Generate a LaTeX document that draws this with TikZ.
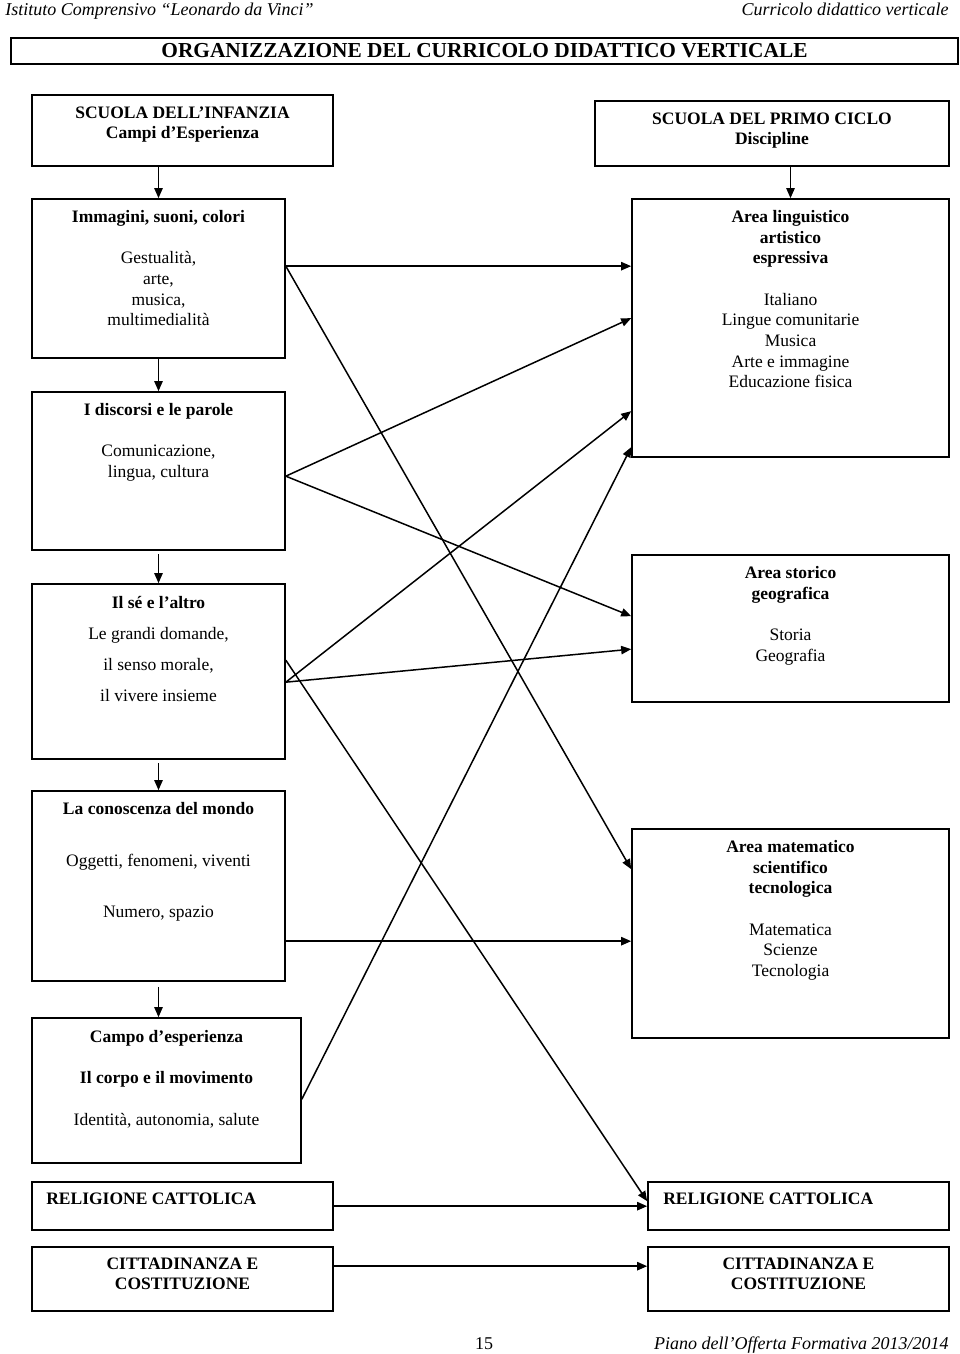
\documentclass[tikz,border=0pt]{standalone}
\usepackage{fontspec}
\setmainfont{Liberation Serif}
\usetikzlibrary{arrows.meta,calc,fit}

\tikzset{
  box/.style={draw, line width=1pt, inner sep=0pt},
  txt/.style={font=\fontsize{10.5}{12.4}\selectfont, align=center, inner sep=0pt, anchor=north},
  head/.style={font=\fontsize{10.8}{13}\selectfont\itshape, inner sep=0pt},
  link/.style={-{Triangle[length=6pt,width=5pt]}, line width=0.9pt},
}

\begin{document}
\begin{tikzpicture}[x=0.6pt, y=-0.6pt]
\useasboundingbox (0,0) rectangle (960,1354);
% intestazione e pie di pagina
\node[head, anchor=base west] (hdl) at (5,16) {Istituto Comprensivo “Leonardo da Vinci”};
\node[head, anchor=base east] (hdr) at (949,16) {Curricolo didattico verticale};
\node[head, anchor=base] (pag) at (484,1349) {\upshape 15};
\node[head, anchor=base east] (pof) at (949,1349) {Piano dell’Offerta Formativa 2013/2014};
\node[box, fit={(11,38) (958,64)}] (ttl) {};
\node[inner sep=0pt, font=\fontsize{12.8}{15}\selectfont\bfseries] (ttl-t) at (ttl.center) {ORGANIZZAZIONE DEL CURRICOLO DIDATTICO VERTICALE};

% colonna sinistra
\node[box, fit={(32,95) (333,166)}] (inf) {};
\node[txt, font=\fontsize{10.5}{12.4}\selectfont\bfseries] (inf-t) at ($(inf.north)+(0,12)$) {SCUOLA DELL’INFANZIA\\Campi d’Esperienza};
\node[box, fit={(32,199) (285,358)}] (imm) {};
\node[txt] (imm-t) at ($(imm.north)+(0,12)$) {\textbf{Immagini, suoni, colori}\\[12.4pt]Gestualità,\\arte,\\musica,\\multimedialità};
\node[box, fit={(32,392) (285,550)}] (dis) {};
\node[txt] (dis-t) at ($(dis.north)+(0,12)$) {\textbf{I discorsi e le parole}\\[12.4pt]Comunicazione,\\lingua, cultura};
\node[box, fit={(32,584) (285,759)}] (se) {};
\node[txt] (se-t) at ($(se.north)+(0,13)$) {\textbf{Il sé e l’altro}\\[6.2pt]Le grandi domande,\\[6.2pt]il senso morale,\\[6.2pt]il vivere insieme};
\node[box, fit={(32,791) (285,981)}] (con) {};
\node[txt] (con-t) at ($(con.north)+(0,12)$) {\textbf{La conoscenza del mondo}\\[18.6pt]Oggetti, fenomeni, viventi\\[18.6pt]Numero, spazio};
\node[box, fit={(32,1018) (301,1163)}] (cam) {};
\node[txt] (cam-t) at ($(cam.north)+(0,13)$) {\textbf{Campo d’esperienza}\\[12.4pt]\textbf{Il corpo e il movimento}\\[12.4pt]Identità, autonomia, salute};
\node[box, fit={(32,1182) (333,1230)}] (relL) {};
\node[txt, anchor=west, font=\fontsize{10.5}{12.4}\selectfont\bfseries] (relL-t) at (46,1199) {RELIGIONE CATTOLICA};
\node[box, fit={(32,1247) (333,1311)}] (citL) {};
\node[txt, font=\fontsize{10.5}{12.4}\selectfont\bfseries] (citL-t) at ($(citL.north)+(0,11)$) {CITTADINANZA E\\COSTITUZIONE};

% colonna destra
\node[box, fit={(595,101) (949,166)}] (pc) {};
\node[txt, font=\fontsize{10.5}{12.4}\selectfont\bfseries] (pc-t) at ($(pc.north)+(0,12)$) {SCUOLA DEL PRIMO CICLO\\Discipline};
\node[box, fit={(632,199) (949,457)}] (lin) {};
\node[txt] (lin-t) at ($(lin.north)+(0,12)$) {\textbf{Area linguistico}\\\textbf{artistico}\\\textbf{espressiva}\\[12.4pt]Italiano\\Lingue comunitarie\\Musica\\Arte e immagine\\Educazione fisica};
\node[box, fit={(632,555) (949,702)}] (sto) {};
\node[txt] (sto-t) at ($(sto.north)+(0,12)$) {\textbf{Area storico}\\\textbf{geografica}\\[12.4pt]Storia\\Geografia};
\node[box, fit={(632,829) (949,1038)}] (mat) {};
\node[txt] (mat-t) at ($(mat.north)+(0,12)$) {\textbf{Area matematico}\\\textbf{scientifico}\\\textbf{tecnologica}\\[12.4pt]Matematica\\Scienze\\Tecnologia};
\node[box, fit={(648,1182) (949,1230)}] (relR) {};
\node[txt, anchor=west, font=\fontsize{10.5}{12.4}\selectfont\bfseries] (relR-t) at (663,1199) {RELIGIONE CATTOLICA};
\node[box, fit={(648,1247) (949,1311)}] (citR) {};
\node[txt, font=\fontsize{10.5}{12.4}\selectfont\bfseries] (citR-t) at ($(citR.north)+(0,11)$) {CITTADINANZA E\\COSTITUZIONE};

% frecce verticali
\draw[link] (inf.south -| imm.north) -- (imm.north);
\draw[link] (imm.south) -- (dis.north);
\draw[link, shorten <=2pt] (dis.south) -- (se.north);
\draw[link, shorten <=2pt] (se.south) -- (con.north);
\draw[link, shorten <=3pt] (con.south) -- (con.south |- cam.north);
\draw[link] (pc.south -| lin.north) -- (lin.north);

% collegamenti campi - discipline
\draw[link] ($(imm.north east)+(0,68)$) -- ($(lin.north west)+(0,68)$);
\draw[link] ($(imm.north east)+(0,68)$) -- ($(mat.north west)+(0,41)$);
\draw[link] ($(dis.north east)+(0,85)$) -- ($(lin.north west)+(0,120)$);
\draw[link] ($(dis.north east)+(0,85)$) -- ($(sto.north west)+(0,62)$);
\draw[link] ($(se.north east)+(0,99)$) -- ($(lin.north west)+(0,213)$);
\draw[link] ($(se.north east)+(0,99)$) -- ($(sto.north west)+(0,95)$);
\draw[link] ($(se.north east)+(0,77)$) -- ($(relR.north west)+(0,20)$);
\draw[link] ($(con.north east)+(0,151)$) -- ($(mat.north west)+(0,113)$);
\draw[link] ($(cam.north east)+(0,82)$) -- ($(lin.north west)+(0,249)$);
\draw[link] ($(relL.north east)+(0,25)$) -- ($(relR.north west)+(0,25)$);
\draw[link] ($(citL.north east)+(0,20)$) -- ($(citR.north west)+(0,20)$);
\end{tikzpicture}
\end{document}
